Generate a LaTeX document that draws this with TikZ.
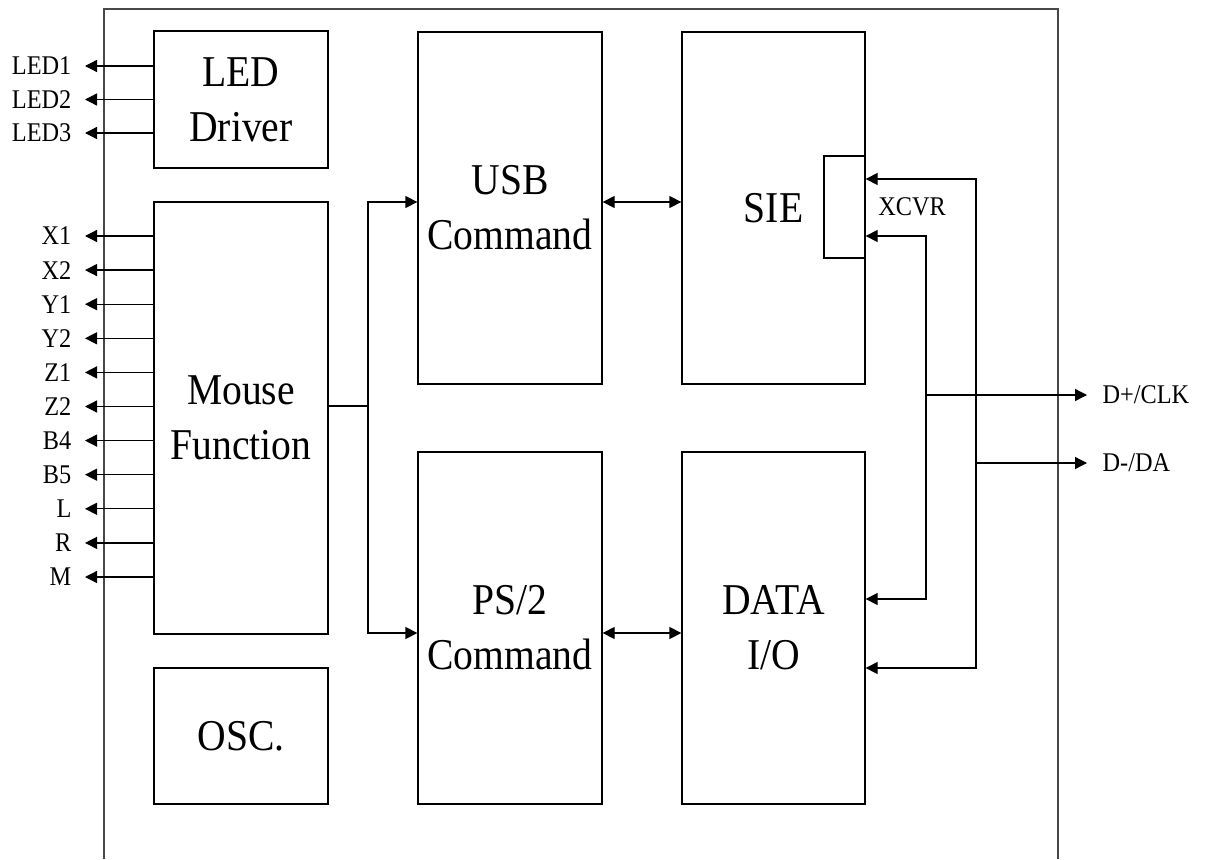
\documentclass[tikz,border=0pt]{standalone}
\usepackage{fontspec}
\setmainfont{Liberation Serif}[FakeStretch=0.9]
\usepackage{tikz}
\usetikzlibrary{positioning, arrows.meta, calc}
\usepackage{xcolor}
\definecolor{frameGray}{HTML}{484848}

\begin{document}
\begin{tikzpicture}[x=1pt, y=-1pt, line width=1.3pt,
    block/.style={draw, align=center, inner sep=0pt, font=\fontsize{44}{55}\selectfont},
    pin/.style={font=\fontsize{27}{30}\selectfont, inner ysep=0pt, inner xsep=13pt},
    tip/.style={-{Triangle[length=12pt, width=12pt]}},
    both/.style={{Triangle[length=12pt, width=12pt]}-{Triangle[length=12pt, width=12pt]}}]
  \useasboundingbox (0,0) rectangle (1206,859);
  % Chip outline (open at the bottom)
  \draw[frameGray, line width=2pt] (104,859) -- (104,9) -- (1058,9) -- (1058,859);
  % Blocks
  \node[block, minimum width=174pt, minimum height=137pt] (led) at (241,99.5) {LED\\Driver};
  \node[block, minimum width=174pt, minimum height=432pt] (mouse) at (241,418) {Mouse\\Function};
  \node[block, minimum width=174pt, minimum height=136pt] (osc) at (241,736) {OSC.};
  \node[block, minimum width=184pt, minimum height=352pt] (usb) at (510,208) {USB\\Command};
  \node[block, minimum width=184pt, minimum height=352pt] (ps2) at (510,628) {PS/2\\Command};
  \node[block, minimum width=183pt, minimum height=352pt] (sie) at (773.5,208) {SIE};
  \node[block, minimum width=183pt, minimum height=352pt] (data) at (773.5,628) {DATA\\I/O};
  \node[draw, minimum width=41pt, minimum height=102pt, inner sep=0pt] (xcvr) at (844.5,207) {};
  \node[pin, inner xsep=0pt, right=12pt of xcvr] (xcvrlbl) {XCVR};
  % LED outputs
  \foreach \i in {1,2,3} {
    \node[pin, anchor=east] (led\i) at (85,32.5+33.5*\i) {LED\i};
    \draw[tip] (led.west |- led\i.east) -- (led\i.east);
  }
  % Mouse pins
  \foreach \lbl [count=\i] in {X1,X2,Y1,Y2,Z1,Z2,B4,B5,L,R,M} {
    \node[pin, anchor=east] (pin\i) at (85,201.9+34.1*\i) {\lbl};
    \draw[tip] (mouse.west |- pin\i.east) -- (pin\i.east);
  }
  % Mouse Function to both command blocks
  \coordinate (split) at (368,406);
  \draw (mouse.east |- split) -- (split);
  \draw[tip] (split) |- ([yshift=6pt]usb.west);
  \draw[tip] (split) |- ([yshift=-5pt]ps2.west);
  \draw[both] ([yshift=6pt]usb.east) -- ([yshift=6pt]sie.west);
  \draw[both] ([yshift=-5pt]ps2.east) -- ([yshift=-5pt]data.west);
  % Bus lines
  \coordinate (a1) at (926,236);
  \coordinate (a2) at (926,599);
  \coordinate (b1) at (976,179);
  \coordinate (b2) at (976,668);
  \draw[both] (xcvr.east |- a1) -- (a1) -- (a2) -- (data.east |- a2);
  \draw[both] (xcvr.east |- b1) -- (b1) -- (b2) -- (data.east |- b2);
  \node[pin, anchor=west, inner xsep=15pt] (dp) at (1087,395) {D+/CLK};
  \node[pin, anchor=west, inner xsep=15pt] (dm) at (1087,463) {D-/DA};
  \draw[tip] (a1 |- dp.west) -- (dp.west);
  \draw[tip] (b1 |- dm.west) -- (dm.west);
\end{tikzpicture}
\end{document}
